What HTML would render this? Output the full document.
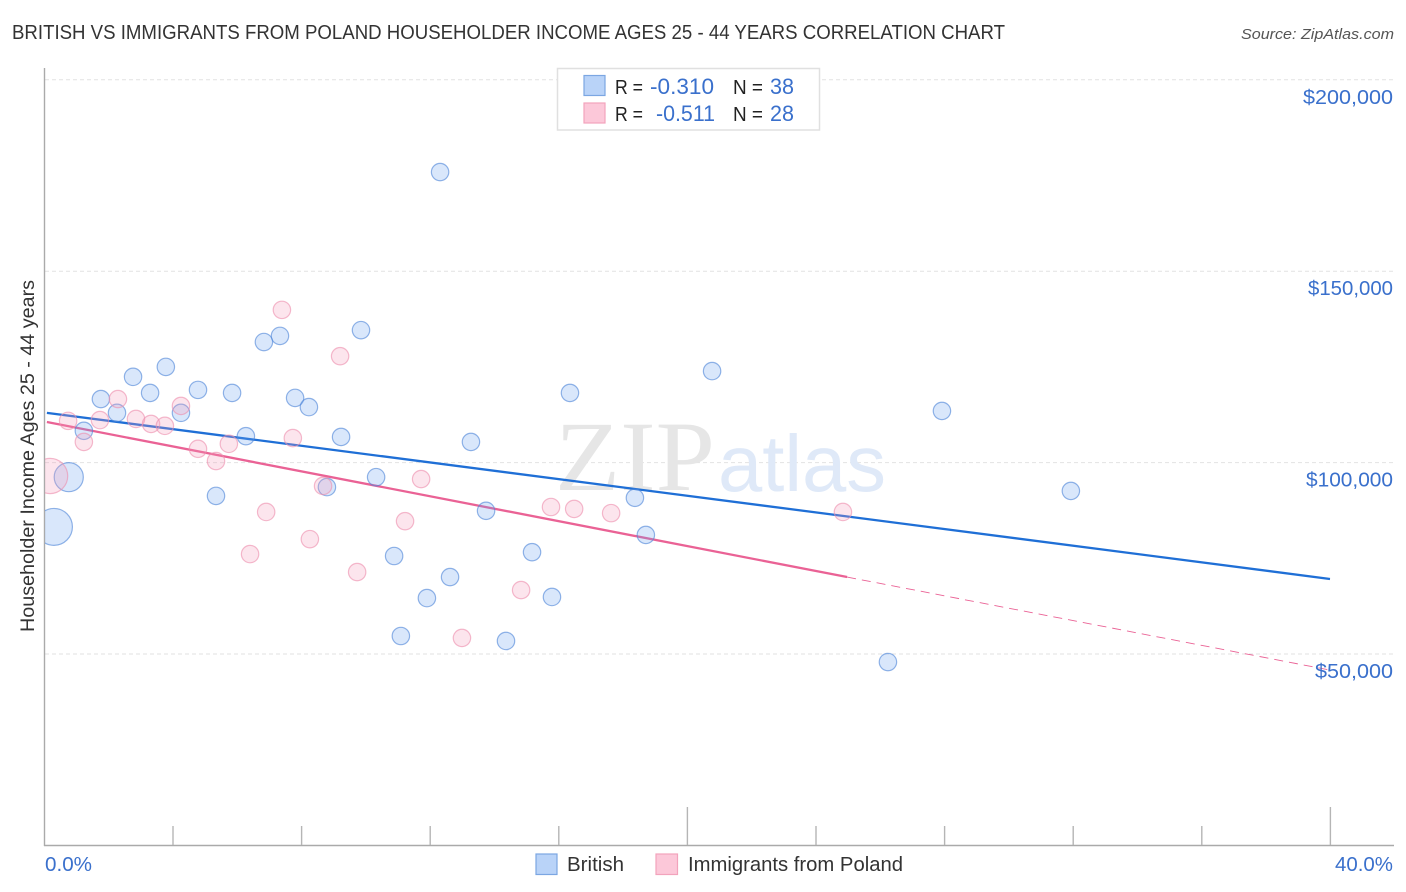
<!DOCTYPE html>
<html lang="en">
<head>
<meta charset="utf-8">
<title>British vs Immigrants from Poland Householder Income Correlation Chart</title>
<style>
html,body{margin:0;padding:0;background:#fff;width:1406px;height:892px;overflow:hidden}
svg{display:block;font-family:"Liberation Sans",sans-serif}
</style>
</head>
<body>
<svg id="chart" xmlns="http://www.w3.org/2000/svg" width="1406" height="892" viewBox="0 0 1406 892">
  <defs><clipPath id="plot-clip"><rect x="45" y="60" width="1349" height="785"/></clipPath></defs>
  <text x="12" y="39" font-size="20" fill="#333" textLength="993" lengthAdjust="spacingAndGlyphs">BRITISH VS IMMIGRANTS FROM POLAND HOUSEHOLDER INCOME AGES 25 - 44 YEARS CORRELATION CHART</text>
  <text x="1241" y="39" font-size="15" font-style="italic" fill="#555" textLength="153" lengthAdjust="spacingAndGlyphs">Source: ZipAtlas.com</text>
  <g id="grid"></g>
  <g>
    <text x="555" y="490" font-size="100" fill="#e6e6e6" textLength="160" lengthAdjust="spacingAndGlyphs" style="font-family:'Liberation Serif',serif">ZIP</text>
    <text x="718" y="491" font-size="80" fill="#dfe9f8" textLength="168" lengthAdjust="spacingAndGlyphs">atlas</text>
  </g>
  <g id="axes"></g>
  <g id="trends"></g>
  <g id="points" clip-path="url(#plot-clip)"></g>
  <g id="labels"></g>
  <text transform="translate(34,456) rotate(-90)" font-size="19.5" fill="#333" text-anchor="middle" textLength="352" lengthAdjust="spacingAndGlyphs">Householder Income Ages 25 - 44 years</text>

  <g>
    <rect x="557.5" y="68.5" width="262" height="61.5" fill="#fff" stroke="#e0e0e0" stroke-width="1.5"/>
    <rect x="584" y="75.5" width="21" height="20" fill="#b9d3f8" stroke="#7ba6e2" stroke-width="1.2"/>
    <rect x="584" y="103" width="21" height="20" fill="#fcc8d9" stroke="#f2a3bc" stroke-width="1.2"/>
    <text x="615" y="94" font-size="20" fill="#222" textLength="28" lengthAdjust="spacingAndGlyphs">R =</text>
    <text x="650" y="94" font-size="22" fill="#3a70cc" textLength="64" lengthAdjust="spacingAndGlyphs">-0.310</text>
    <text x="733" y="94" font-size="20" fill="#222" textLength="30" lengthAdjust="spacingAndGlyphs">N =</text>
    <text x="770" y="94" font-size="22" fill="#3a70cc" textLength="24" lengthAdjust="spacingAndGlyphs">38</text>
    <text x="615" y="121" font-size="20" fill="#222" textLength="28" lengthAdjust="spacingAndGlyphs">R =</text>
    <text x="656" y="121" font-size="22" fill="#3a70cc" textLength="59" lengthAdjust="spacingAndGlyphs">-0.511</text>
    <text x="733" y="121" font-size="20" fill="#222" textLength="30" lengthAdjust="spacingAndGlyphs">N =</text>
    <text x="770" y="121" font-size="22" fill="#3a70cc" textLength="24" lengthAdjust="spacingAndGlyphs">28</text>
  </g>

  <g>
    <rect x="536" y="854" width="21" height="20.5" fill="#b9d3f8" stroke="#7ba6e2" stroke-width="1.2"/>
    <text x="567" y="871" font-size="20" fill="#333" textLength="57" lengthAdjust="spacingAndGlyphs">British</text>
    <rect x="656" y="854" width="21.5" height="20.5" fill="#fcc8d9" stroke="#f2a3bc" stroke-width="1.2"/>
    <text x="688" y="871" font-size="20" fill="#333" textLength="215" lengthAdjust="spacingAndGlyphs">Immigrants from Poland</text>
  </g>
</svg>
<script>
const yTicks = [200000, 150000, 100000, 50000];
const yTickLabels = ["$200,000", "$150,000", "$100,000", "$50,000"];
const xTicks = [4, 8, 12, 16, 20, 24, 28, 32, 36, 40];
const xMajorTicks = [20, 40];
const xEndLabels = ["0.0%", "40.0%"];

const britishX = [12.32,9.86,7.34,6.84,3.79,2.77,20.78,4.79,3.30,5.85,16.36,1.77,7.81,8.24,2.27,4.26,27.93,1.24,6.28,9.24,13.28,0.77,10.33,5.35,8.80,18.38,31.94,13.75,0.31,18.72,15.18,10.89,12.63,11.91,15.80,11.10,14.37,26.25];
const britishY = [175900,134600,133100,131500,125000,122400,123900,119000,118200,118200,118200,116600,116900,114500,113000,113000,113500,108300,106900,106700,105400,96200,96200,91300,93600,90800,92600,87400,83200,81100,76600,75600,70100,64600,64900,54700,53400,47900];
const britishWeight = [1,1,1,1,1,1,1,1,1,1,1,1,1,1,1,1,1,1,1,1,1,2.8,1,1,1,1,1,1,4.5,1,1,1,1,1,1,1,1,1];

const polandX = [7.40,9.21,2.30,4.26,0.75,1.74,2.86,3.33,3.76,7.74,1.24,5.75,4.79,5.35,0.19,11.73,8.68,15.77,16.49,17.64,24.85,6.91,11.23,8.27,6.41,9.74,14.84,13.00];
const polandY = [139900,127800,116600,114800,110900,111100,111400,110100,109600,106400,105400,104900,103600,100400,96500,95700,93900,88400,87900,86800,87100,87100,84700,80000,76100,71400,66700,54200];
const polandWeight = [1,1,1,1,1,1,1,1,1,1,1,1,1,1,4.1,1,1,1,1,1,1,1,1,1,1,1,1,1];

const britishTrendX = [0.09, 40];
const britishTrendY = [113000, 69600];
const polandTrendX = [0.09, 24.98];
const polandTrendY = [110600, 70100];
const polandDashX = [24.98, 40];
const polandDashY = [70100, 45800];

const NS = "http://www.w3.org/2000/svg";
const scaleX = function (v) { return 44 + (v / 40) * 1286; };
const scaleY = function (v) { return 654 - ((v - 50000) / 50000) * 191.4; };
const BASE_R = 8.7;

function make(tag, parent, attrs) {
  const el = document.createElementNS(NS, tag);
  Object.keys(attrs).forEach(function (k) { el.setAttribute(k, attrs[k]); });
  parent.appendChild(el);
  return el;
}

const gridG = document.getElementById("grid");
yTicks.forEach(function (t) {
  const line = make("line", gridG, { x1: 45, x2: 1394, y1: scaleY(t), y2: scaleY(t), stroke: "#e2e2e2", "stroke-width": 1, "stroke-dasharray": "4 3" });
  
  
});

const axesG = document.getElementById("axes");
const yAxis = make("line", axesG, { x1: 44.5, x2: 44.5, y1: 68, y2: 846, stroke: "#aaa", "stroke-width": 1.4 });


const xAxis = make("line", axesG, { x1: 44, x2: 1394, y1: 845.5, y2: 845.5, stroke: "#aaa", "stroke-width": 1.4 });


xTicks.forEach(function (t) {
  const top = xMajorTicks.indexOf(t) >= 0 ? 807 : 826;
  const tick = make("line", axesG, { x1: scaleX(t) + 0.4, x2: scaleX(t) + 0.4, y1: top, y2: 845, stroke: "#b5b5b5", "stroke-width": 1.4 });
  
  
});

const trendG = document.getElementById("trends");
function trend(xs, ys, color, width, dash, name) {
  const attrs = { x1: scaleX(xs[0]), y1: scaleY(ys[0]), x2: scaleX(xs[1]), y2: scaleY(ys[1]), stroke: color, "stroke-width": width };
  if (dash) { attrs["stroke-dasharray"] = dash; }
  const line = make("line", trendG, attrs);
  
  
}
trend(britishTrendX, britishTrendY, "#1f6fd6", 2.3, null, "british-trend-line");
trend(polandTrendX, polandTrendY, "#ea6295", 2.3, null, "poland-trend-line");
trend(polandDashX, polandDashY, "#ea6295", 0.9, "9 6", "poland-trend-projection");

const pointsG = document.getElementById("points");
function dots(xs, ys, ws, fill, stroke, name) {
  xs.forEach(function (x, i) {
    const c = make("circle", pointsG, { cx: scaleX(x), cy: scaleY(ys[i]), r: BASE_R * Math.sqrt(ws[i]), fill: fill, "fill-opacity": 0.26, stroke: stroke, "stroke-opacity": 0.62, "stroke-width": 1.2 });
    
    
  });
}
dots(britishX, britishY, britishWeight, "#6ea4ee", "#4f86d8", "british-point");
dots(polandX, polandY, polandWeight, "#f59ab8", "#ee8fae", "poland-point");

const labelsG = document.getElementById("labels");
yTicks.forEach(function (t, i) {
  const fitted = i === 0 ? 90 : i === 1 ? 85 : i === 2 ? 87 : 78;
  const label = make("text", labelsG, { x: 1393, y: scaleY(t) + 24, "font-size": 20, fill: "#3a70cc", "text-anchor": "end", textLength: fitted, lengthAdjust: "spacingAndGlyphs" });
  
  
  label.textContent = yTickLabels[i];
});
const xLabel0 = make("text", labelsG, { x: 45, y: 871, "font-size": 20, fill: "#3a70cc", textLength: 47, lengthAdjust: "spacingAndGlyphs" });


xLabel0.textContent = xEndLabels[0];
const xLabel1 = make("text", labelsG, { x: 1335, y: 871, "font-size": 20, fill: "#3a70cc", textLength: 58, lengthAdjust: "spacingAndGlyphs" });


xLabel1.textContent = xEndLabels[1];
</script>
</body>
</html>
